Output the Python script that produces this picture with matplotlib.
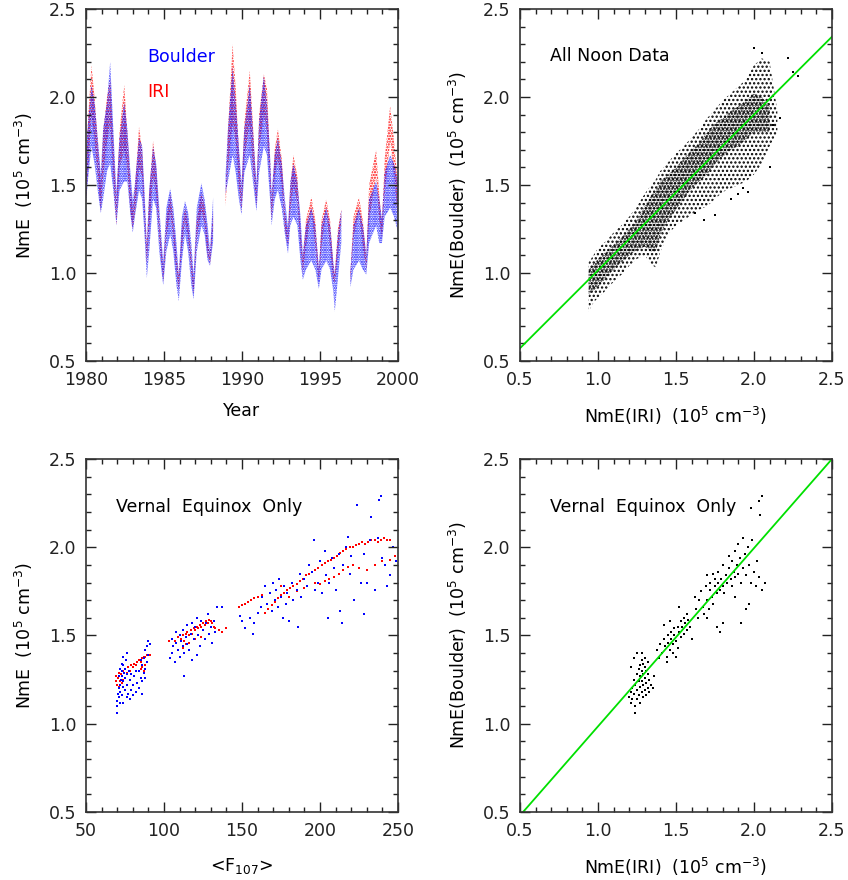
import numpy as np
import matplotlib
matplotlib.use("Agg")
import matplotlib.pyplot as plt
from matplotlib.ticker import MultipleLocator

nan = np.nan

# --- top left : time series, bands (year, lo, hi) ---
t_knots = [1980.0, 1980.15, 1980.35, 1980.55, 1980.75, 1980.95,
           1981.1, 1981.35, 1981.55, 1981.75, 1981.95,
           1982.15, 1982.45, 1982.65, 1982.85, 1983.0,
           1983.15, 1983.4, 1983.6, 1983.75, 1983.9,
           1984.05, 1984.3, 1984.5, 1984.7, 1984.95,
           1985.15, 1985.4, 1985.6, 1985.8, 1985.95,
           1986.15, 1986.35, 1986.55, 1986.75, 1986.9,
           1987.1, 1987.4, 1987.6, 1987.8, 1987.95, 1988.15,
           1988.5,
           1988.95, 1989.1, 1989.4, 1989.6, 1989.8, 1989.97,
           1990.15, 1990.5, 1990.7, 1990.93,
           1991.1, 1991.4, 1991.6, 1991.8, 1991.9,
           1992.1, 1992.3, 1992.55, 1992.75, 1992.95,
           1993.1, 1993.3, 1993.55, 1993.75, 1993.9,
           1994.1, 1994.45, 1994.7, 1994.93,
           1995.1, 1995.4, 1995.65, 1995.85, 1995.95,
           1996.15, 1996.37, 1996.6,
           1996.95, 1997.15, 1997.5, 1997.75, 1997.97,
           1998.15, 1998.6, 1998.8, 1998.97,
           1999.15, 1999.5, 1999.75, 2000.0]
boulder_lo = [1.40, 1.55, 1.72, 1.62, 1.47, 1.34,
              1.42, 1.58, 1.62, 1.47, 1.27,
              1.47, 1.52, 1.52, 1.33, 1.23,
              1.33, 1.47, 1.42, 1.22, 0.97,
              1.12, 1.42, 1.37, 1.12, 0.93,
              1.12, 1.22, 1.12, 0.93, 0.84,
              1.07, 1.22, 1.12, 0.93, 0.85,
              1.12, 1.27, 1.22, 1.07, 1.04, 1.18,
              nan,
              1.45, 1.52, 1.67, 1.57, 1.42, 1.33,
              1.57, 1.67, 1.52, 1.35,
              1.57, 1.72, 1.67, 1.42, 1.27,
              1.42, 1.47, 1.37, 1.22, 1.11,
              1.27, 1.32, 1.27, 1.07, 0.96,
              1.02, 1.07, 1.02, 0.91,
              1.02, 1.07, 1.02, 0.90, 0.78,
              0.97, 1.17, nan,
              0.92, 1.02, 1.07, 1.02, 0.99,
              1.17, 1.27, 1.17, 1.17,
              1.32, 1.37, 1.32, 1.23]
boulder_hi = [1.70, 1.87, 2.07, 1.97, 1.77, 1.56,
              1.82, 1.97, 2.20, 1.82, 1.46,
              1.77, 1.97, 1.82, 1.57, 1.41,
              1.52, 1.77, 1.72, 1.47, 1.16,
              1.47, 1.72, 1.62, 1.37, 1.06,
              1.37, 1.48, 1.37, 1.17, 0.99,
              1.32, 1.41, 1.34, 1.17, 0.99,
              1.37, 1.51, 1.42, 1.27, 1.13, 1.43,
              nan,
              1.56, 1.82, 2.17, 1.97, 1.72, 1.51,
              1.82, 2.07, 1.82, 1.51,
              1.87, 2.12, 1.97, 1.67, 1.46,
              1.67, 1.77, 1.62, 1.42, 1.26,
              1.52, 1.62, 1.52, 1.32, 1.11,
              1.27, 1.37, 1.27, 1.03,
              1.27, 1.37, 1.27, 1.07, 0.99,
              1.22, 1.36, nan,
              1.01, 1.27, 1.37, 1.27, 1.11,
              1.42, 1.52, 1.42, 1.31,
              1.57, 1.67, 1.62, 1.52]
iri_lo = [1.40, 1.60, 1.90, 1.75, 1.55, 1.35,
          1.55, 1.75, 1.85, 1.55, 1.27,
          1.60, 1.70, 1.60, 1.35, 1.25,
          1.35, 1.60, 1.55, 1.30, 1.05,
          1.25, 1.55, 1.45, 1.20, 0.95,
          1.20, 1.35, 1.20, 1.00, 0.90,
          1.15, 1.30, 1.20, 1.00, 0.88,
          1.20, 1.35, 1.28, 1.10, 1.05, 1.25,
          nan,
          1.38, 1.60, 1.85, 1.75, 1.50, 1.35,
          1.65, 1.85, 1.60, 1.38,
          1.70, 1.90, 1.80, 1.50, 1.30,
          1.55, 1.65, 1.50, 1.25, 1.15,
          1.35, 1.50, 1.40, 1.15, 1.00,
          1.15, 1.35, 1.15, 0.95,
          1.15, 1.35, 1.15, 0.95, 0.95,
          1.10, 1.30, nan,
          0.95, 1.20, 1.35, 1.15, 1.02,
          1.30, 1.55, 1.30, 1.20,
          1.45, 1.75, 1.55, 1.30]
iri_hi = [1.65, 1.90, 2.18, 2.00, 1.75, 1.50,
          1.80, 2.00, 2.10, 1.75, 1.40,
          1.80, 2.07, 1.80, 1.50, 1.35,
          1.50, 1.83, 1.70, 1.40, 1.15,
          1.45, 1.75, 1.60, 1.30, 1.02,
          1.30, 1.45, 1.30, 1.10, 0.98,
          1.25, 1.37, 1.28, 1.10, 0.95,
          1.30, 1.46, 1.38, 1.20, 1.10, 1.35,
          nan,
          1.45, 1.80, 2.30, 2.05, 1.70, 1.45,
          1.85, 2.15, 1.85, 1.45,
          1.90, 2.13, 2.05, 1.65, 1.40,
          1.70, 1.82, 1.65, 1.35, 1.22,
          1.50, 1.67, 1.55, 1.25, 1.08,
          1.30, 1.43, 1.30, 1.00,
          1.30, 1.42, 1.30, 1.05, 1.00,
          1.25, 1.36, nan,
          1.00, 1.32, 1.43, 1.30, 1.08,
          1.50, 1.70, 1.45, 1.28,
          1.65, 1.95, 1.75, 1.50]

# --- top right : all noon data, Boulder vs IRI ---
iri_knots = [0.94, 0.97, 1.00, 1.05, 1.10, 1.15, 1.20, 1.25, 1.30, 1.34,
             1.37, 1.40, 1.45, 1.50, 1.55, 1.60, 1.65, 1.70, 1.75, 1.80,
             1.85, 1.90, 1.95, 2.00, 2.05, 2.10, 2.15]
all_outer_lo = [0.78, 0.83, 0.86, 0.90, 0.95, 0.99, 1.04, 1.08, 1.10, 1.05,
                1.03, 1.12, 1.22, 1.27, 1.30, 1.33, 1.36, 1.38, 1.42, 1.46,
                1.48, 1.50, 1.52, 1.56, 1.62, 1.72, 1.80]
all_outer_hi = [1.06, 1.10, 1.14, 1.18, 1.23, 1.27, 1.32, 1.38, 1.45, 1.50,
                1.53, 1.58, 1.63, 1.68, 1.72, 1.77, 1.82, 1.88, 1.93, 1.98,
                2.02, 2.06, 2.10, 2.18, 2.22, 2.20, 1.92]
all_core_lo = [0.88, 0.90, 0.92, 0.97, 1.02, 1.06, 1.10, 1.13, 1.15, 1.12,
               1.12, 1.22, 1.30, 1.36, 1.42, 1.48, 1.52, 1.56, 1.62, 1.66,
               1.70, 1.72, 1.76, 1.80, 1.80, 1.80, nan]
all_core_hi = [1.02, 1.05, 1.08, 1.12, 1.16, 1.20, 1.25, 1.30, 1.38, 1.44,
               1.47, 1.52, 1.56, 1.60, 1.65, 1.70, 1.74, 1.80, 1.85, 1.88,
               1.92, 1.95, 1.98, 2.02, 2.00, 1.95, nan]
all_out_x = [2.25, 2.22, 2.00, 1.93, 1.96, 1.75, 1.62, 2.17, 2.10, 1.85,
             2.28, 1.68, 2.12, 1.90, 2.05]
all_out_y = [2.14, 2.22, 2.28, 1.48, 1.46, 1.33, 1.34, 1.88, 1.60, 1.42,
             2.12, 1.30, 1.84, 1.45, 2.25]
all_fit = (0.885, 0.13)   # slope, intercept

# --- bottom left : vernal equinox vs <F107> ---
f107_boulder = [70, 70, 70, 70.5, 71, 71, 71.5, 72, 72, 72.5, 73, 73, 73, 73.5,
                74, 74, 74, 74.5, 75, 75, 75, 75.5, 76, 76, 76.5, 77, 77.5, 78,
                78, 79, 80, 80, 81, 82, 83, 84, 84, 85, 86, 86, 87, 87, 88, 88,
                89, 89, 90, 90, 91, 72, 71, 73, 74, 76, 79, 82, 85, 86, 88,
                104, 105, 105, 106, 107, 108, 108, 109, 110, 110, 111, 112, 112,
                113, 113, 114, 115, 115, 116, 117, 118, 119, 120, 121, 122, 123,
                124, 125, 126, 127, 128, 129, 130, 131, 132, 133, 134, 137, 121,
                118,
                149, 150, 152, 155, 157, 158, 160, 162, 163, 165, 166, 168, 169,
                170, 171, 172, 173, 174, 175, 176, 177, 178, 179, 180, 182, 183,
                185, 186, 187, 188, 190, 192, 193, 195, 196, 197, 199, 200, 201,
                203, 204, 206, 208, 209, 210, 212, 213, 214, 215, 217, 218, 219,
                220, 222, 224, 226, 228, 230, 232, 233, 235, 237, 238, 239, 240,
                242, 243, 245, 247, 249, 228, 205]
nme_boulder = [1.06, 1.10, 1.13, 1.17, 1.20, 1.15, 1.12, 1.22, 1.18, 1.25, 1.30,
               1.34, 1.27, 1.21, 1.38, 1.33, 1.24, 1.29, 1.31, 1.26, 1.19, 1.36,
               1.40, 1.28, 1.22, 1.17, 1.30, 1.14, 1.25, 1.19, 1.16, 1.22, 1.27,
               1.18, 1.23, 1.30, 1.20, 1.26, 1.33, 1.24, 1.29, 1.37, 1.31, 1.42,
               1.35, 1.44, 1.47, 1.39, 1.45, 1.31, 1.27, 1.16, 1.12, 1.15, 1.28,
               1.30, 1.36, 1.17, 1.26,
               1.37, 1.40, 1.48, 1.44, 1.35, 1.46, 1.52, 1.42, 1.38, 1.50, 1.47,
               1.44, 1.53, 1.27, 1.40, 1.49, 1.45, 1.56, 1.42, 1.51, 1.36, 1.48,
               1.55, 1.60, 1.50, 1.44, 1.58, 1.53, 1.48, 1.57, 1.62, 1.51, 1.55,
               1.46, 1.58, 1.52, 1.66, 1.66, 1.39, 1.57,
               1.61, 1.58, 1.54, 1.60, 1.51, 1.57, 1.63, 1.66, 1.72, 1.78, 1.68,
               1.74, 1.64, 1.80, 1.70, 1.76, 1.66, 1.82, 1.72, 1.60, 1.78, 1.68,
               1.74, 1.58, 1.80, 1.70, 1.76, 1.55, 1.85, 1.72, 1.82, 1.78, 1.90,
               1.86, 2.04, 1.76, 1.80, 1.92, 1.74, 1.98, 1.84, 1.80, 1.94, 1.88,
               1.76, 1.96, 1.64, 1.57, 1.90, 2.00, 2.06, 1.85, 1.95, 1.70, 2.24,
               1.80, 1.96, 1.80, 2.04, 2.17, 1.76, 2.05, 2.27, 2.29, 1.94, 1.90,
               1.78, 1.84, 2.00, 1.92, 1.62, 1.60]
f107_iri = [69, 69.5, 70, 70.5, 71, 71, 72, 72.5, 73, 73.5, 74, 75, 76, 77, 78,
            79, 80, 81, 82, 83, 84, 85, 86, 87, 88, 89, 90, 91, 85, 86, 87, 88,
            103, 105, 107, 109, 110, 111, 112, 113, 114, 115, 116, 117, 118, 119,
            120, 121, 122, 123, 124, 125, 126, 127, 128, 129, 130, 131, 132, 133,
            135, 137, 140, 112, 114, 116, 120, 124,
            148, 150, 152, 154, 156, 158, 160, 163, 165, 167, 169, 171, 173, 175,
            177, 179, 181, 183, 185, 187, 189, 191, 193, 195, 197, 199, 201, 203,
            205, 207, 209, 211, 213, 215, 217, 219, 221, 223, 225, 227, 229, 231,
            233, 235, 237, 239, 241, 243, 245, 197, 200, 203, 206, 209, 212, 215,
            218, 221, 225, 230, 235, 240, 245, 248, 180, 185, 190, 175, 172]
nme_iri = [1.27, 1.24, 1.22, 1.26, 1.29, 1.21, 1.24, 1.28, 1.23, 1.30, 1.25,
           1.31, 1.29, 1.32, 1.30, 1.33, 1.32, 1.34, 1.33, 1.35, 1.36, 1.35, 1.37,
           1.38, 1.38, 1.39, 1.39, 1.39, 1.31, 1.32, 1.30, 1.33,
           1.47, 1.48, 1.47, 1.49, 1.50, 1.48, 1.50, 1.47, 1.51, 1.52, 1.50, 1.53,
           1.51, 1.54, 1.53, 1.55, 1.54, 1.56, 1.55, 1.57, 1.56, 1.58, 1.57, 1.59,
           1.58, 1.57, 1.55, 1.54, 1.53, 1.52, 1.54, 1.43, 1.45, 1.46, 1.48, 1.49,
           1.66, 1.67, 1.68, 1.69, 1.70, 1.71, 1.72, 1.73, 1.63, 1.65, 1.67, 1.69,
           1.71, 1.73, 1.74, 1.76, 1.77, 1.78, 1.79, 1.81, 1.82, 1.84, 1.85, 1.86,
           1.87, 1.88, 1.90, 1.91, 1.92, 1.93, 1.94, 1.95, 1.97, 1.98, 1.99, 2.00,
           2.00, 2.01, 2.02, 2.03, 2.02, 2.03, 2.04, 2.04, 2.03, 2.04, 2.05, 2.04,
           2.04, 1.80, 1.79, 1.81, 1.82, 1.83, 1.85, 1.87, 1.89, 1.90, 1.88, 1.87,
           1.90, 1.92, 1.93, 1.95, 1.72, 1.75, 1.77, 1.78, 1.76]

# --- bottom right : vernal equinox, Boulder vs IRI ---
ve_iri = [1.20, 1.21, 1.21, 1.22, 1.22, 1.23, 1.23, 1.24, 1.24, 1.24, 1.25, 1.25,
          1.25, 1.26, 1.26, 1.26, 1.27, 1.27, 1.27, 1.27, 1.28, 1.28, 1.28, 1.28,
          1.29, 1.29, 1.29, 1.29, 1.30, 1.30, 1.30, 1.31, 1.31, 1.31, 1.32, 1.32,
          1.33, 1.33, 1.34, 1.35, 1.25, 1.23, 1.21, 1.30, 1.28, 1.36, 1.32,
          1.38, 1.39, 1.40, 1.41, 1.42, 1.43, 1.44, 1.45, 1.45, 1.46, 1.47, 1.47,
          1.48, 1.48, 1.49, 1.49, 1.50, 1.51, 1.51, 1.52, 1.53, 1.53, 1.54, 1.55,
          1.55, 1.56, 1.57, 1.57, 1.58, 1.59, 1.46, 1.52, 1.44, 1.50, 1.42, 1.60,
          1.62, 1.63, 1.64, 1.65, 1.66, 1.67, 1.68, 1.69, 1.70, 1.70, 1.71, 1.72,
          1.72, 1.73, 1.74, 1.74, 1.75, 1.75, 1.76, 1.77, 1.77, 1.78, 1.78, 1.79,
          1.80, 1.80, 1.81, 1.82, 1.83, 1.84, 1.84, 1.85, 1.86, 1.86, 1.87, 1.88,
          1.88, 1.89, 1.90, 1.90, 1.91, 1.92, 1.92, 1.93, 1.93, 1.94, 1.95, 1.96,
          1.97, 1.98, 1.99, 2.00, 2.01, 2.02, 2.03, 2.04, 2.05, 2.05, 2.03, 1.98,
          2.07, 1.76, 1.80, 1.70, 1.88, 1.95, 1.97]
ve_boulder = [1.15, 1.18, 1.12, 1.20, 1.14, 1.25, 1.17, 1.10, 1.22, 1.06, 1.28,
              1.19, 1.14, 1.31, 1.24, 1.16, 1.33, 1.27, 1.21, 1.12, 1.36, 1.30,
              1.24, 1.18, 1.34, 1.28, 1.22, 1.15, 1.32, 1.26, 1.19, 1.30, 1.23,
              1.16, 1.28, 1.20, 1.25, 1.18, 1.22, 1.20, 1.40, 1.37, 1.32, 1.37,
              1.40, 1.27, 1.35,
              1.42, 1.37, 1.45, 1.40, 1.48, 1.44, 1.38, 1.50, 1.46, 1.42, 1.52,
              1.48, 1.45, 1.40, 1.54, 1.50, 1.47, 1.55, 1.43, 1.52, 1.49, 1.58,
              1.55, 1.51, 1.60, 1.57, 1.53, 1.62, 1.59, 1.55, 1.58, 1.66, 1.35,
              1.38, 1.56, 1.48,
              1.72, 1.65, 1.60, 1.70, 1.75, 1.66, 1.62, 1.78, 1.70, 1.84, 1.65,
              1.76, 1.80, 1.72, 1.85, 1.68, 1.78, 1.82, 1.74, 1.80, 1.86, 1.76,
              1.52, 1.82, 1.78, 1.90, 1.74, 1.84, 1.80, 1.88, 1.95, 1.82, 1.92,
              1.78, 1.86, 1.98, 1.83, 1.90, 2.02, 1.85, 1.94, 1.57, 1.80, 2.05,
              1.88, 1.96, 1.84, 2.00, 1.90, 1.80, 2.04, 1.86, 1.78, 1.92, 1.83,
              2.18, 1.76, 2.29, 2.26, 2.22, 1.80, 1.55, 1.57, 1.60, 1.72, 1.65,
              1.68]
ve_fit = (1.01, -0.025)   # slope, intercept

nme_label = 'NmE  (10$^5$ cm$^{-3}$)'

plt.rcParams['hatch.linewidth'] = 1.1

fig = plt.figure(figsize=(8.48, 8.80), dpi=100)
ax_tl = fig.add_axes([0.1014, 0.5898, 0.3679, 0.400])
ax_tr = fig.add_axes([0.6132, 0.5898, 0.3679, 0.400])
ax_bl = fig.add_axes([0.1014, 0.0773, 0.3679, 0.4011])
ax_br = fig.add_axes([0.6132, 0.0773, 0.3679, 0.4011])


def style_axes(ax, xmajor, xminor):
    # IDL look: ticks inside on all four sides, dark frame
    ax.set_ylim(0.5, 2.5)
    ax.yaxis.set_major_locator(MultipleLocator(0.5))
    ax.yaxis.set_minor_locator(MultipleLocator(0.1))
    ax.xaxis.set_major_locator(MultipleLocator(xmajor))
    ax.xaxis.set_minor_locator(MultipleLocator(xminor))
    ax.yaxis.set_major_formatter(matplotlib.ticker.FormatStrFormatter('%.1f'))
    ax.tick_params(which='both', direction='in', top=True, right=True,
                   labelsize=12.5, colors='#222222', width=1.0)
    ax.tick_params(which='major', length=7, pad=7)
    ax.tick_params(which='minor', length=3.5)
    for sp in ax.spines.values():
        sp.set_linewidth(1.2)
        sp.set_color('#333333')


# top left
ax_tl.fill_between(t_knots, iri_lo, iri_hi, facecolor='none', edgecolor='red',
                   linewidth=0, hatch='......')
ax_tl.fill_between(t_knots, boulder_lo, boulder_hi, facecolor='none',
                   edgecolor='blue', linewidth=0, hatch='.......')
ax_tl.set_xlim(1980, 2000)
style_axes(ax_tl, 5, 1)
ax_tl.text(1983.95, 2.225, 'Boulder', color='blue', fontsize=12.5, va='center')
ax_tl.text(1983.95, 2.03, 'IRI', color='red', fontsize=12.5, va='center')
ax_tl.set_xlabel('Year', fontsize=12.5)
ax_tl.set_ylabel(nme_label, fontsize=12.5)

# top right
ax_tr.fill_between(iri_knots, all_outer_lo, all_outer_hi, facecolor='none',
                   edgecolor='black', linewidth=0, hatch='....')
ax_tr.fill_between(iri_knots, all_core_lo, all_core_hi, facecolor='none',
                   edgecolor='black', linewidth=0, hatch='......')
ax_tr.scatter(all_out_x, all_out_y, s=1.5, color='black', marker='s', lw=0)
ax_tr.axline((0, all_fit[1]), slope=all_fit[0], color='#00e000', lw=1.3)
ax_tr.set_xlim(0.5, 2.5)
style_axes(ax_tr, 0.5, 0.1)
ax_tr.xaxis.set_major_formatter(matplotlib.ticker.FormatStrFormatter('%.1f'))
ax_tr.text(0.69, 2.23, 'All Noon Data', fontsize=12.5, va='center')
ax_tr.set_xlabel('NmE(IRI)  (10$^5$ cm$^{-3}$)', fontsize=12.5)
ax_tr.set_ylabel('NmE(Boulder)  (10$^5$ cm$^{-3}$)', fontsize=12.5)

# bottom left
ax_bl.scatter(f107_iri, nme_iri, s=3, color='red', marker='s', lw=0)
ax_bl.scatter(f107_boulder, nme_boulder, s=3, color='blue', marker='s', lw=0)
ax_bl.set_xlim(50, 250)
style_axes(ax_bl, 50, 10)
ax_bl.text(69, 2.23, 'Vernal  Equinox  Only', fontsize=12.5, va='center')
ax_bl.set_xlabel('<F$_{107}$>', fontsize=12.5)
ax_bl.set_ylabel(nme_label, fontsize=12.5)

# bottom right
ax_br.scatter(ve_iri, ve_boulder, s=3, color='black', marker='s', lw=0)
ax_br.axline((0, ve_fit[1]), slope=ve_fit[0], color='#00e000', lw=1.3)
ax_br.set_xlim(0.5, 2.5)
style_axes(ax_br, 0.5, 0.1)
ax_br.xaxis.set_major_formatter(matplotlib.ticker.FormatStrFormatter('%.1f'))
ax_br.text(0.69, 2.23, 'Vernal  Equinox  Only', fontsize=12.5, va='center')
ax_br.set_xlabel('NmE(IRI)  (10$^5$ cm$^{-3}$)', fontsize=12.5)
ax_br.set_ylabel('NmE(Boulder)  (10$^5$ cm$^{-3}$)', fontsize=12.5)

# label positions as in the picture
ax_tl.xaxis.set_label_coords(0.5, -0.117)
ax_tr.xaxis.set_label_coords(0.5, -0.125)
ax_bl.xaxis.set_label_coords(0.5, -0.125)
ax_br.xaxis.set_label_coords(0.5, -0.125)
for ax in (ax_tl, ax_tr, ax_bl, ax_br):
    ax.yaxis.set_label_coords(-0.165, 0.5)

fig.savefig('out.png', dpi=100)
